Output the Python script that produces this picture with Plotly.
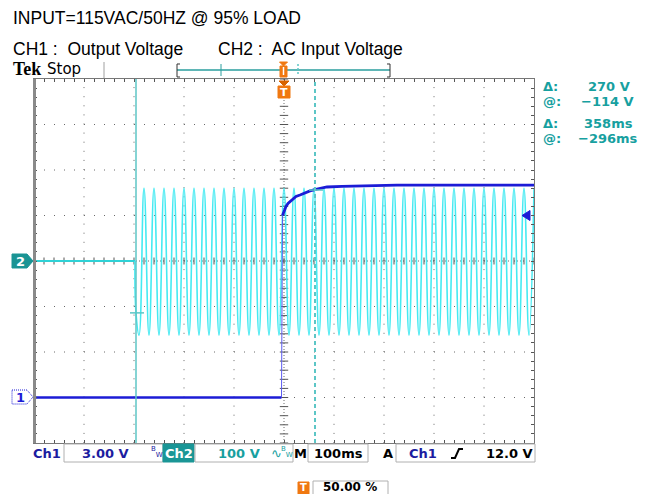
import plotly.graph_objects as go

# Time axis in ms (100 ms/div, trigger at centre), 10 divisions
# CH1 : Output Voltage (3.00 V/div, ground marker at -3 div)
CH1_T_MS = [-500, -5, -3, 0, 4, 8, 16, 24, 32, 42, 52, 68, 86, 116, 146, 186, 226, 300, 400, 500]
CH1_V = [0, 0, 12.0, 12.3, 12.6, 12.8, 13.05, 13.25, 13.35, 13.5, 13.62, 13.75, 13.88, 13.92,
         13.95, 13.98, 14.0, 14.0, 14.0, 14.0]
CH1_VOLTS_PER_DIV = 3.0
CH1_OFFSET_DIV = -3.0

# CH2 : AC Input Voltage (100 V/div, ground at centre)
CH2_IDLE_T_MS = [-500, -298]
CH2_IDLE_V = [0, 0]
CH2_T_MS = [-298, -296,
            -290, -280, -270, -260, -250, -240, -230, -220, -210, -200,
            -190, -180, -170, -160, -150, -140, -130, -120, -110, -100,
            -90, -80, -70, -60, -50, -40, -30, -20, -10, 0,
            10, 20, 30, 40, 50, 60, 70, 80, 90, 100,
            110, 120, 130, 140, 150, 160, 170, 180, 190, 200,
            210, 220, 230, 240, 250, 260, 270, 280, 290, 300,
            310, 320, 330, 340, 350, 360, 370, 380, 390, 400,
            410, 420, 430, 440, 450, 460, 470, 480, 490, 500]
CH2_V = [0, -114,
         -163, 160, -163, 160, -163, 160, -163, 160, -163, 160,
         -163, 160, -163, 160, -163, 160, -163, 160, -163, 160,
         -163, 160, -163, 160, -163, 160, -163, 160, -163, 160,
         -163, 160, -163, 160, -163, 160, -163, 160, -163, 160,
         -163, 160, -163, 160, -163, 160, -163, 160, -163, 160,
         -163, 160, -163, 160, -163, 160, -163, 160, -163, 160,
         -163, 160, -163, 160, -163, 160, -163, 160, -163, 160,
         -163, 160, -163, 160, -163, 160, -163, 160, -163, 160]
CH2_VOLTS_PER_DIV = 100.0

# cursors
CURSOR_T_MS = [-296, 62]
CURSOR_V = [-114, 156]
TRIG_LEVEL_V = 12.0

TITLE1 = "INPUT=115VAC/50HZ @ 95% LOAD"
TITLE2A = "CH1 :\u00a0 Output Voltage"
TITLE2B = "CH2 :\u00a0 AC Input Voltage"
READOUT = [("Δ:", "270 V"), ("@:", "\u2212114 V"), ("Δ:", "358ms"), ("@:", "\u2212296ms")]

# ---------------- geometry helpers (screen pixels; page has 8px body margin) ----------------
OFF = 8
L, R, T, B = 34, 534, 79, 443
W, H = R - L, B - T
FIG_W, FIG_H = 656 - OFF, 494 - OFF


def px(X):
    return (X - L) / W


def py(Y):
    return (B - Y) / H


def P(X, Y):
    return f"{px(X):.5f},{py(Y):.5f}"


CYAN = "#45eaf2"
TEAL = "#17a0a0"
BLUE = "#1c1cd6"
ORANGE = "#f07810"
GRID = "#6a6a6a"
TITLE_FONT = "Liberation Sans Narrow, Arial Narrow, Liberation Sans, Arial, sans-serif"
TEK_FONT = "DejaVu Sans, Verdana, sans-serif"

ch1_div = [v / CH1_VOLTS_PER_DIV + CH1_OFFSET_DIV for v in CH1_V]
ch2_div = [v / CH2_VOLTS_PER_DIV for v in CH2_V]
ch2_idle_div = [v / CH2_VOLTS_PER_DIV for v in CH2_IDLE_V]

fig = go.Figure()

shapes = []
annotations = []

# graticule
for xv in range(-400, 500, 100):
    shapes.append(dict(type="line", xref="x", yref="y", x0=xv, x1=xv, y0=-4, y1=4, layer="below",
                       line=dict(color=GRID, width=1, dash="1px,2px" if xv == 0 else "1px,8.1px")))
for yv in range(-3, 4):
    shapes.append(dict(type="line", xref="x", yref="y", x0=-500, x1=500, y0=yv, y1=yv, layer="below",
                       line=dict(color=GRID, width=1, dash="1px,2px" if yv == 0 else "1px,9px")))

# centre-line minor ticks
tick_x = list(range(-500, 501, 20))
tick_y = [i / 5 - 4 for i in range(41)]
fig.add_trace(go.Scatter(x=tick_x, y=[0] * len(tick_x), mode="markers", hoverinfo="skip",
                         marker=dict(symbol="line-ns-open", size=5, color="#555",
                                     line=dict(color="#555", width=1))))
fig.add_trace(go.Scatter(x=[0] * len(tick_y), y=tick_y, mode="markers", hoverinfo="skip",
                         marker=dict(symbol="line-ew-open", size=6, color="#555",
                                     line=dict(color="#555", width=1))))

# cursors
shapes.append(dict(type="line", xref="x", yref="y", x0=CURSOR_T_MS[0], x1=CURSOR_T_MS[0], y0=-4, y1=4,
                   line=dict(color="#5cc6c6", width=1.5)))
shapes.append(dict(type="line", xref="x", yref="y", x0=CURSOR_T_MS[1], x1=CURSOR_T_MS[1], y0=-4, y1=4,
                   line=dict(color="#5cc6c6", width=2, dash="4px,3px")))
for t, v in zip(CURSOR_T_MS, CURSOR_V):
    shapes.append(dict(type="line", xref="x", yref="y", x0=t - 12, x1=t + 16,
                       y0=v / CH2_VOLTS_PER_DIV, y1=v / CH2_VOLTS_PER_DIV,
                       line=dict(color="#5cc6c6", width=1.5)))

# traces
fig.add_trace(go.Scatter(x=CH2_IDLE_T_MS, y=ch2_idle_div, mode="lines", hoverinfo="skip",
                         line=dict(color="#2fd2d6", width=2)))
fig.add_trace(go.Scatter(x=CH2_T_MS, y=ch2_div, mode="lines", hoverinfo="skip",
                         line=dict(color=CYAN, width=1.6, shape="spline", smoothing=1.3)))
# CH1: baseline, fast (faint) rise, then settling curve
fig.add_trace(go.Scatter(x=CH1_T_MS[:2], y=ch1_div[:2], mode="lines", hoverinfo="skip",
                         line=dict(color=BLUE, width=2.6)))
fig.add_trace(go.Scatter(x=CH1_T_MS[1:3], y=ch1_div[1:3], mode="lines", hoverinfo="skip",
                         line=dict(color="#5a5af0", width=1)))
fig.add_trace(go.Scatter(x=CH1_T_MS[2:], y=ch1_div[2:], mode="lines", hoverinfo="skip",
                         line=dict(color=BLUE, width=2.8)))

# left edge bar
shapes.append(dict(type="line", xref="paper", yref="paper", x0=px(34.5), x1=px(34.5), y0=py(79), y1=py(443),
                   line=dict(color="#8a8a8a", width=3)))


def text(X, Y, s, size, color, family, anchor="left"):
    annotations.append(dict(x=px(X), y=py(Y), xref="paper", yref="paper", text=s, showarrow=False,
                            xanchor=anchor, yanchor="middle", font=dict(size=size, color=color, family=family)))


# channel ground markers
shapes.append(dict(type="path", xref="paper", yref="paper", fillcolor="#1a9494", line=dict(color="#1a9494", width=1),
                   path=f"M{P(12,254)} L{P(27,254)} L{P(33,261)} L{P(27,268)} L{P(12,268)} Z"))
text(20, 261, "<b>2</b>", 13, "white", TEK_FONT, "center")
shapes.append(dict(type="path", xref="paper", yref="paper", fillcolor="white", line=dict(color=BLUE, width=1, dash="1px,1px"),
                   path=f"M{P(12,390)} L{P(27,390)} L{P(33,397)} L{P(27,404)} L{P(12,404)} Z"))
text(20, 397, "<b>1</b>", 13, BLUE, TEK_FONT, "center")

# trigger level arrow (right edge)
ty = 261 - (TRIG_LEVEL_V / CH1_VOLTS_PER_DIV + CH1_OFFSET_DIV) * (H / 8)
shapes.append(dict(type="path", xref="paper", yref="paper", fillcolor=BLUE, line=dict(color=BLUE, width=1),
                   path=f"M{P(522,ty)} L{P(530,ty-5)} L{P(530,ty+5)} Z"))

# trigger T marker inside top
shapes.append(dict(type="path", xref="paper", yref="paper", fillcolor="#d86400", line=dict(color="#d86400", width=1),
                   path=f"M{P(279,81)} L{P(289,81)} L{P(284,86)} Z"))
shapes.append(dict(type="rect", xref="paper", yref="paper", x0=px(278), x1=px(290), y0=py(98), y1=py(86),
                   fillcolor=ORANGE, line=dict(color=ORANGE, width=1)))
text(284, 92, "<b>T</b>", 11, "white", TEK_FONT, "center")

# top record bar
shapes.append(dict(type="line", xref="paper", yref="paper", x0=px(104), x1=px(104), y0=py(62), y1=py(78),
                   line=dict(color="#a0a0a0", width=1)))
shapes.append(dict(type="line", xref="paper", yref="paper", x0=px(177), x1=px(390), y0=py(70), y1=py(70),
                   line=dict(color="#2a9e9e", width=1.5)))
shapes.append(dict(type="path", xref="paper", yref="paper", line=dict(color="#333", width=1),
                   path=f"M{P(180,64)} L{P(177,64)} L{P(177,77)} L{P(180,77)}"))
shapes.append(dict(type="path", xref="paper", yref="paper", line=dict(color="#333", width=1),
                   path=f"M{P(387,64)} L{P(390,64)} L{P(390,77)} L{P(387,77)}"))
shapes.append(dict(type="line", xref="paper", yref="paper", x0=px(221), x1=px(221), y0=py(64), y1=py(76),
                   line=dict(color="#2a9e9e", width=1)))
shapes.append(dict(type="line", xref="paper", yref="paper", x0=px(298), x1=px(298), y0=py(64), y1=py(76),
                   line=dict(color="#5cc6c6", width=1.5, dash="2px,2px")))
shapes.append(dict(type="path", xref="paper", yref="paper", fillcolor=ORANGE, line=dict(color=ORANGE, width=1),
                   path=f"M{P(279.5,62)} L{P(287.5,62)} L{P(283.5,66)} Z"))
shapes.append(dict(type="rect", xref="paper", yref="paper", x0=px(280), x1=px(287), y0=py(77), y1=py(66),
                   fillcolor=ORANGE, line=dict(color=ORANGE, width=1)))
shapes.append(dict(type="line", xref="paper", yref="paper", x0=px(283.5), x1=px(283.5), y0=py(75), y1=py(67),
                   line=dict(color="white", width=1.5)))

# titles
text(11, 18, TITLE1, 17.5, "black", TITLE_FONT)
text(11, 49, TITLE2A, 17.5, "black", TITLE_FONT)
text(216, 49, TITLE2B, 17.5, "black", TITLE_FONT)
text(11, 69, "<b>Tek</b>", 18, "black", "Liberation Serif, Times New Roman, serif")
text(45, 69, "Stop", 15, "black", TEK_FONT)

# readouts
ys = [86, 101, 123, 138]
val_x = [586, 579, 582, 576]
for (lab, val), yy, vx in zip(READOUT, ys, val_x):
    text(541, yy, f"<b>{lab}</b>", 13, TEAL, TEK_FONT)
    text(vx, yy, f"<b>{val}</b>", 13, TEAL, TEK_FONT)


# status bar
def box(x0, x1, y0, y1, fill="white", col="#b0b0b0"):
    shapes.append(dict(type="rect", xref="paper", yref="paper", x0=px(x0), x1=px(x1), y0=py(y1), y1=py(y0),
                       fillcolor=fill, line=dict(color=col, width=1)))


box(64, 163, 444, 462)
box(163, 194, 444, 462, fill="#1a9696", col="#1a9696")
box(195, 293, 444, 462)
box(308, 368, 444, 462)
box(396, 535, 444, 462)
SY = 453.5
text(47, SY, "<b>Ch1</b>", 13, "#1c1ca0", TEK_FONT, "center")
text(105, SY, "<b>3.00 V</b>", 13, "#1c1ca0", TEK_FONT, "center")
text(157, SY - 1, "<sup>B</sup><sub>W</sub>", 10, "#1c1ca0", TEK_FONT, "center")
text(178.5, SY, "<b>Ch2</b>", 13, "white", TEK_FONT, "center")
text(239, SY, "<b>100 V</b>", 13, TEAL, TEK_FONT, "center")
text(276, SY, "∿", 13, TEAL, TEK_FONT, "center")
text(287, SY - 1, "<sup>B</sup><sub>W</sub>", 10, TEAL, TEK_FONT, "center")
text(300, SY, "<b>M</b>", 13, "black", TEK_FONT, "center")
text(338, SY, "<b>100ms</b>", 13, "black", TEK_FONT, "center")
text(387.5, SY, "<b>A</b>", 13, "black", TEK_FONT, "center")
text(423, SY, "<b>Ch1</b>", 13, "#1c1ca0", TEK_FONT, "center")
shapes.append(dict(type="path", xref="paper", yref="paper", line=dict(color="black", width=2),
                   path=f"M{P(451,458)} L{P(455,458)} L{P(459,449)} L{P(463,449)}"))
text(509, SY, "<b>12.0 V</b>", 13, "black", TEK_FONT, "center")

box(298, 309, 482, 494, fill=ORANGE, col=ORANGE)
text(303.5, 487, "<b>T</b>", 10, "white", TEK_FONT, "center")
box(313, 388, 481, 496)
text(350, 486.5, "<b>50.00 %</b>", 12, "black", TEK_FONT, "center")

fig.update_layout(
    width=FIG_W, height=FIG_H, autosize=False,
    margin=dict(l=L - OFF, r=FIG_W - (R - OFF), t=T - OFF, b=FIG_H - (B - OFF)),
    paper_bgcolor="white", plot_bgcolor="white",
    showlegend=False,
    shapes=shapes, annotations=annotations,
    xaxis=dict(range=[-500, 500], showgrid=False, zeroline=False, showticklabels=False,
               ticks="inside", tick0=-500, dtick=20, ticklen=3, tickcolor="#555",
               showline=True, linecolor="#777", linewidth=1, mirror="ticks", fixedrange=True),
    yaxis=dict(range=[-4, 4], showgrid=False, zeroline=False, showticklabels=False,
               ticks="inside", tick0=-4, dtick=0.2, ticklen=3, tickcolor="#555",
               showline=True, linecolor="#777", linewidth=1, mirror="ticks", fixedrange=True),
)

fig.write_html("out.html")
